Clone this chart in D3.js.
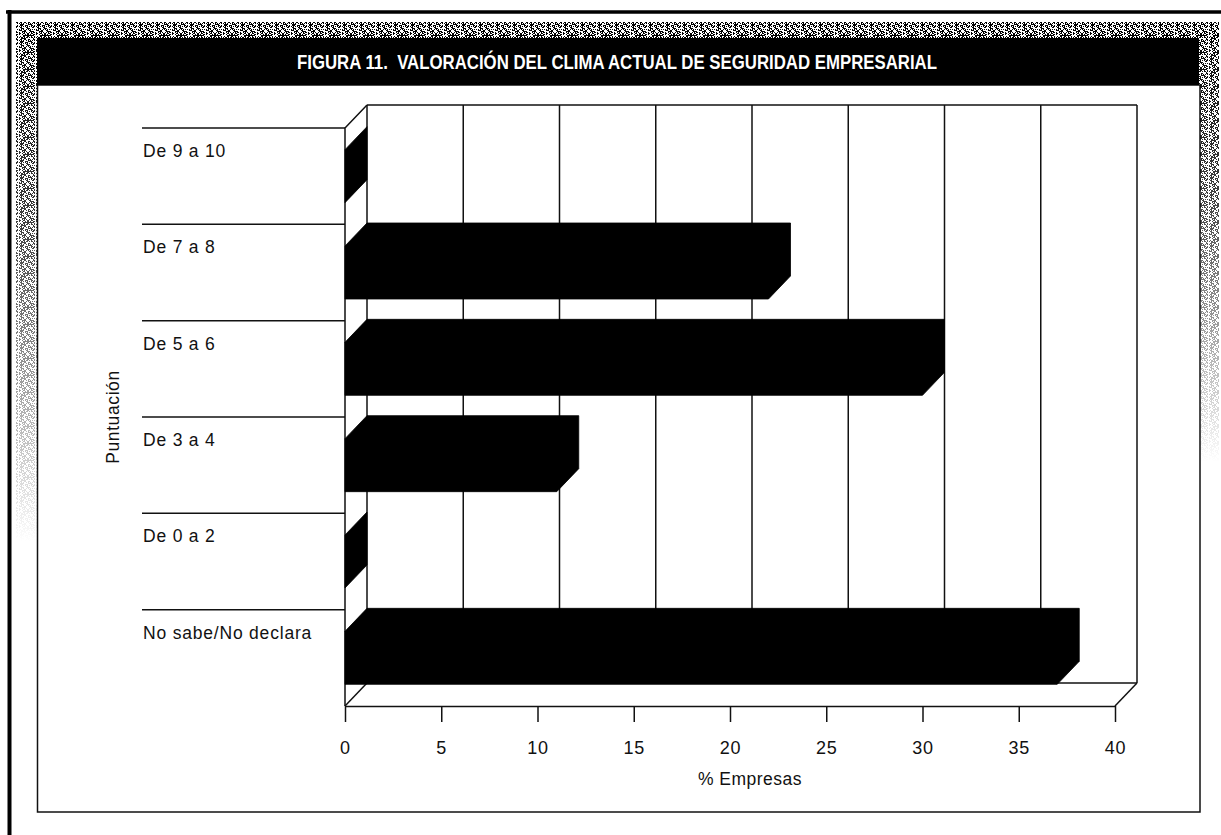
<!DOCTYPE html>
<html><head><meta charset="utf-8">
<script src="https://cdn.jsdelivr.net/npm/d3@7"></script>
<style>
html,body{margin:0;padding:0;background:#fff;}
svg{display:block;}
</style></head>
<body>
<script>
const categories = ["De 9 a 10","De 7 a 8","De 5 a 6","De 3 a 4","De 0 a 2","No sabe/No declara"];
const values = [0, 22, 30, 11, 0, 37];
const xTicks = [0,5,10,15,20,25,30,35,40];
const titleText = "FIGURA 11.  VALORACIÓN DEL CLIMA ACTUAL DE SEGURIDAD EMPRESARIAL";
const xTitle = "% Empresas";
const yTitle = "Puntuación";

(function(){
const W = 1221, H = 835;
const svg = d3.select("body").append("svg").attr("width", W).attr("height", H);
const defs = svg.append("defs");

// halftone-like dither pattern for the grey border strips (deterministic hash)
const P = 17;
const pat = defs.append("pattern").attr("id","dith").attr("width",P).attr("height",P).attr("patternUnits","userSpaceOnUse");
pat.append("rect").attr("width",P).attr("height",P).attr("fill","#fff");
for (let i=0;i<P;i++) for (let j=0;j<P;j++) {
  const h = ((i*7919 + j*104729 + i*j*31) % 97);
  if (h < 44) pat.append("rect").attr("x",i).attr("y",j).attr("width",1).attr("height",1).attr("fill","#000");
}
const gV = defs.append("linearGradient").attr("id","fadeL").attr("x1",0).attr("y1",0).attr("x2",0).attr("y2",1);
gV.append("stop").attr("offset","0").attr("stop-color","#fff").attr("stop-opacity",1);
gV.append("stop").attr("offset","0.4").attr("stop-color","#fff").attr("stop-opacity",0.75);
gV.append("stop").attr("offset","1").attr("stop-color","#fff").attr("stop-opacity",0);
const mL = defs.append("mask").attr("id","maskL").attr("maskUnits","userSpaceOnUse").attr("x",0).attr("y",0).attr("width",W).attr("height",H);
mL.append("rect").attr("x",0).attr("y",0).attr("width",W).attr("height",H).attr("fill","#000");
mL.append("rect").attr("x",0).attr("y",22).attr("width",W).attr("height",20).attr("fill","#fff");
mL.append("rect").attr("x",16).attr("y",22).attr("width",22).attr("height",520).attr("fill","url(#fadeL)");
mL.append("rect").attr("x",1198).attr("y",22).attr("width",21).attr("height",440).attr("fill","url(#fadeL)");
svg.append("rect").attr("x",16).attr("y",22).attr("width",1203).attr("height",540).attr("fill","url(#dith)").attr("mask","url(#maskL)");

// outer frame lines
svg.append("line").attr("x1",6).attr("x2",W).attr("y1",12).attr("y2",12).attr("stroke","#000").attr("stroke-width",3.5);
svg.append("line").attr("x1",9.5).attr("x2",9.5).attr("y1",10).attr("y2",H).attr("stroke","#000").attr("stroke-width",4);

// inner panel
svg.append("rect").attr("x",37.5).attr("y",85).attr("width",1162.5).attr("height",727).attr("fill","#fff").attr("stroke","#111").attr("stroke-width",1.5);
// title bar
svg.append("rect").attr("x",37).attr("y",38).attr("width",1162).attr("height",47).attr("fill","#000");
svg.append("text").attr("x",617).attr("y",69).attr("text-anchor","middle")
  .attr("font-family","'Liberation Sans Narrow','Arial Narrow','Liberation Sans',sans-serif")
  .attr("font-weight","bold").attr("font-size",19.5).attr("fill","#fff")
  .attr("textLength",640).attr("lengthAdjust","spacingAndGlyphs")
  .style("white-space","pre").text(titleText);

// scales
const x = d3.scaleLinear().domain([0,40]).range([345,1115]);
const yBand = d3.scaleBand().domain(categories).range([128,706]).padding(0);
const yBar = d3.scaleBand().domain(categories).range([128,706]).paddingInner(0.45).paddingOuter(0.225);
const dx = 22, dy = 23;
const yTop = yBand.range()[0], yBot = yBand.range()[1];
const stroke = "#111";
const sw = 1.5;

const plot = svg.append("g");
plot.selectAll("line.grid").data(xTicks).join("line").attr("class","grid")
  .attr("x1",d=>x(d)+dx).attr("x2",d=>x(d)+dx).attr("y1",yTop-dy).attr("y2",yBot-dy)
  .attr("stroke",stroke).attr("stroke-width",sw);
plot.append("line").attr("x1",x(0)+dx).attr("x2",x(40)+dx).attr("y1",yTop-dy).attr("y2",yTop-dy).attr("stroke",stroke).attr("stroke-width",sw);
plot.append("line").attr("x1",x(0)+dx).attr("x2",x(40)+dx).attr("y1",yBot-dy).attr("y2",yBot-dy).attr("stroke",stroke).attr("stroke-width",sw);
plot.append("path").attr("d",`M${x(0)},${yBot}L${x(0)},${yTop}L${x(0)+dx},${yTop-dy}`).attr("fill","none").attr("stroke",stroke).attr("stroke-width",sw);
plot.append("path").attr("d",`M${x(0)},${yBot}L${x(0)+dx},${yBot-dy}`).attr("fill","none").attr("stroke",stroke).attr("stroke-width",sw);
plot.append("path").attr("d",`M${x(40)},${yBot}L${x(40)+dx},${yBot-dy}`).attr("fill","none").attr("stroke",stroke).attr("stroke-width",sw);

// category separators and labels on the left
plot.selectAll("line.sep").data(categories).join("line").attr("class","sep")
  .attr("x1",142).attr("x2",x(0)).attr("y1",d=>yBand(d)).attr("y2",d=>yBand(d))
  .attr("stroke",stroke).attr("stroke-width",sw);
plot.selectAll("text.cat").data(categories).join("text").attr("class","cat")
  .attr("x",143).attr("y",d=>yBand(d)+29)
  .attr("font-family","'Liberation Sans',Arial,sans-serif").attr("font-size",17.5)
  .attr("letter-spacing",0.8).attr("fill","#111").text(d=>d);

// bars (3D boxes, solid black)
const data = categories.map((c,i)=>({c, v: values[i]}));
plot.selectAll("path.bar").data(data).join("path").attr("class","bar")
  .attr("d",d=>{
    const x0 = x(0), x1 = x(d.v), ft = yBar(d.c), fb = yBar(d.c)+yBar.bandwidth();
    return `M${x0},${ft}L${x0+dx},${ft-dy}L${x1+dx},${ft-dy}L${x1+dx},${fb-dy}L${x1},${fb}L${x0},${fb}Z`;
  })
  .attr("fill","#000").attr("stroke","#000").attr("stroke-width",0.8);

// x axis on the front floor edge
const axis = d3.axisBottom(x).tickValues(xTicks).tickSize(16).tickSizeOuter(0).tickPadding(19);
const ax = svg.append("g").attr("transform",`translate(0,${yBot})`).call(axis);
ax.select(".domain").attr("stroke",stroke).attr("stroke-width",sw);
ax.selectAll(".tick line").attr("stroke",stroke).attr("stroke-width",sw);
ax.selectAll(".tick text").attr("font-family","'Liberation Sans',Arial,sans-serif").attr("font-size",18)
  .attr("letter-spacing",0.8).attr("fill","#111");

svg.append("text").attr("x",750).attr("y",785).attr("text-anchor","middle")
  .attr("font-family","'Liberation Sans',Arial,sans-serif").attr("font-size",17.5).attr("letter-spacing",0.5)
  .attr("fill","#111").text(xTitle);
svg.append("text").attr("transform",`translate(119,${(yTop+yBot)/2}) rotate(-90)`).attr("text-anchor","middle")
  .attr("font-family","'Liberation Sans',Arial,sans-serif").attr("font-size",17.5).attr("letter-spacing",0.6)
  .attr("fill","#111").text(yTitle);
})();
</script>
</body></html>
